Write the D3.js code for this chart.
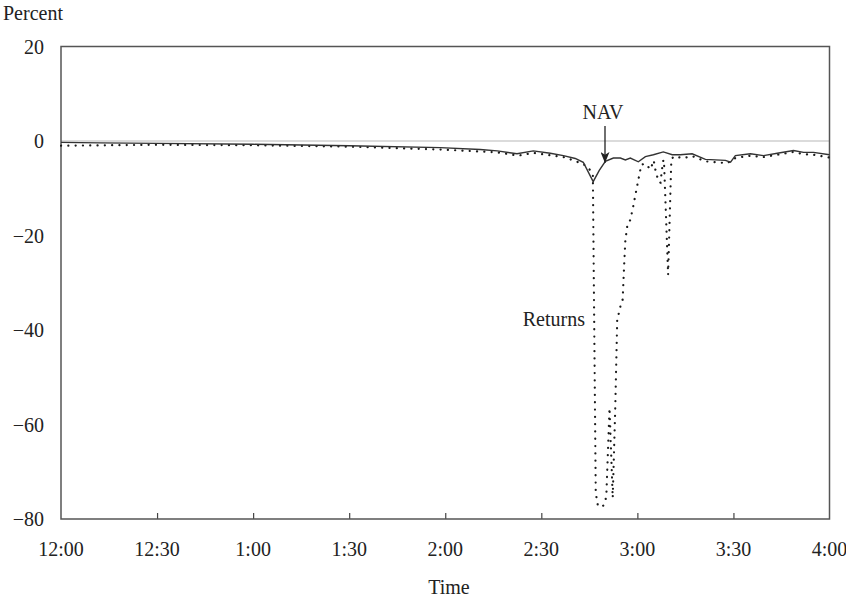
<!DOCTYPE html>
<html>
<head>
<meta charset="utf-8">
<script src="https://cdn.jsdelivr.net/npm/d3@7"></script>
<style>
  body { margin: 0; background: #fff; }
  text { font-family: "Liberation Serif", "DejaVu Serif", serif; fill: #222; }
</style>
</head>
<body>
<svg width="846" height="599"></svg>
<script>
// minutes after 12:00
const navTimes = [0, 12.2, 30, 60, 90, 118.4, 130.9, 136.25, 142.4, 147.5, 152.8, 156.9, 160.6, 163.1, 166.2, 168.1, 170, 172.5, 174.7, 176.25, 177.8, 180.3, 182.5, 185, 188.1, 190.9, 193.4, 197.1, 201.25, 207.5, 209.1, 210.6, 215.3, 219.4, 223.7, 228.75, 231.9, 235, 240];
const navValues = [-0.3, -0.4, -0.5, -0.7, -1.0, -1.4, -1.8, -2.1, -2.7, -2.1, -2.6, -3.1, -3.7, -4.5, -8.6, -6.2, -4.3, -3.6, -3.6, -4.0, -3.6, -4.4, -3.3, -2.9, -2.3, -2.9, -2.9, -2.7, -3.9, -4.1, -4.5, -3.1, -2.7, -3.1, -2.6, -2.0, -2.4, -2.4, -2.9];

const retTimes = [0, 30, 60, 90, 118.4, 136.25, 142.8, 147.5, 156.9, 160, 163.1, 164.7, 166.1, 167.0, 167.6, 169.0, 169.7, 170.3, 171.3, 172.3, 173.1, 173.7, 174.7, 175.4, 175.9, 176.25, 176.9, 177.8, 178.8, 179.7, 180.6, 181.25, 182.5, 184.1, 185.1, 185.6, 186.6, 187.2, 188.0, 188.3, 189.6, 190.6, 191.25, 194.4, 197.1, 201.25, 208.0, 210.6, 215.3, 219.4, 223.7, 228.75, 231.9, 235, 240];
const retValues = [-1.0, -0.8, -0.9, -1.2, -1.8, -2.4, -3.1, -2.5, -3.4, -4.1, -4.9, -5.6, -7.2, -74.5, -76.9, -77.5, -76.8, -75.2, -56.5, -75.5, -56.3, -37.9, -35, -33.6, -25.8, -21, -17.7, -16.7, -13.5, -10.3, -7.2, -5, -4.8, -6, -4.1, -6, -8.6, -8.8, -4.3, -4, -28.3, -4, -3.3, -3.6, -3.2, -4.3, -4.7, -3.6, -3.1, -3.4, -2.9, -2.3, -2.8, -2.9, -3.5];

const xTicks = [0, 30, 60, 90, 120, 150, 180, 210, 240];
const xTickLabels = ["12:00", "12:30", "1:00", "1:30", "2:00", "2:30", "3:00", "3:30", "4:00"];
const yTicks = [20, 0, -20, -40, -60, -80];

const svg = d3.select("svg");
const plotLeft = 61, plotRight = 829.5, plotTop = 46.5, plotBottom = 519;
const fontSize = 20;

const x = d3.scaleLinear().domain([0, 240]).range([plotLeft, plotRight]);
const y = d3.scaleLinear().domain([-80, 20]).range([plotBottom, plotTop]);

// zero line
svg.append("line")
  .attr("x1", plotLeft).attr("x2", plotRight)
  .attr("y1", y(0)).attr("y2", y(0))
  .attr("stroke", "#cfcfcf")
  .attr("stroke-width", 1.5);

// inward ticks on the time axis
const xAxis = d3.axisTop(x)
  .tickValues(xTicks.slice(1, -1))
  .tickSize(6)
  .tickFormat("");
svg.append("g")
  .attr("transform", `translate(0,${plotBottom})`)
  .call(xAxis)
  .call(g => g.select(".domain").remove())
  .call(g => g.selectAll("line").attr("stroke", "#444").attr("stroke-width", 1.2));

svg.selectAll(".xlab")
  .data(xTicks)
  .join("text")
  .attr("class", "xlab")
  .attr("x", d => x(d))
  .attr("y", 556)
  .attr("text-anchor", "middle")
  .attr("font-size", fontSize)
  .text((d, i) => xTickLabels[i]);

svg.selectAll(".ylab")
  .data(yTicks)
  .join("text")
  .attr("class", "ylab")
  .attr("x", 44)
  .attr("y", d => y(d))
  .attr("dy", "0.35em")
  .attr("text-anchor", "end")
  .attr("font-size", fontSize)
  .text(d => (d < 0 ? "\u2212" + Math.abs(d) : d));

// frame
svg.append("rect")
  .attr("x", plotLeft).attr("y", plotTop)
  .attr("width", plotRight - plotLeft).attr("height", plotBottom - plotTop)
  .attr("fill", "none")
  .attr("stroke", "#555")
  .attr("stroke-width", 1.5);

const line = d3.line()
  .x(d => x(d[0]))
  .y(d => y(d[1]));

svg.append("path")
  .datum(retTimes.map((t, i) => [t, retValues[i]]))
  .attr("d", line)
  .attr("fill", "none")
  .attr("stroke", "#1a1a1a")
  .attr("stroke-width", 2.2)
  .attr("stroke-linecap", "round")
  .attr("stroke-dasharray", "0.1,7.2");

svg.append("path")
  .datum(navTimes.map((t, i) => [t, navValues[i]]))
  .attr("d", line)
  .attr("fill", "none")
  .attr("stroke", "#333")
  .attr("stroke-width", 1.4);

// NAV annotation
svg.append("defs").append("marker")
  .attr("id", "head")
  .attr("viewBox", "0 0 10 10")
  .attr("refX", 10).attr("refY", 5)
  .attr("markerWidth", 11).attr("markerHeight", 9)
  .attr("markerUnits", "userSpaceOnUse")
  .attr("orient", "auto")
  .attr("preserveAspectRatio", "none")
  .append("path")
  .attr("d", "M0,0L10,5L0,10L2.5,5Z")
  .attr("fill", "#222");

svg.append("line")
  .attr("x1", 605).attr("x2", 605)
  .attr("y1", 126).attr("y2", 163)
  .attr("stroke", "#222")
  .attr("stroke-width", 1.3)
  .attr("marker-end", "url(#head)");

svg.append("text")
  .attr("x", 603).attr("y", 119)
  .attr("text-anchor", "middle")
  .attr("font-size", fontSize)
  .text("NAV");

svg.append("text")
  .attr("x", 585).attr("y", 326)
  .attr("text-anchor", "end")
  .attr("font-size", fontSize)
  .text("Returns");

svg.append("text")
  .attr("x", 3).attr("y", 20)
  .attr("font-size", fontSize)
  .text("Percent");

svg.append("text")
  .attr("x", 449).attr("y", 594)
  .attr("text-anchor", "middle")
  .attr("font-size", fontSize)
  .text("Time");
</script>
</body>
</html>
